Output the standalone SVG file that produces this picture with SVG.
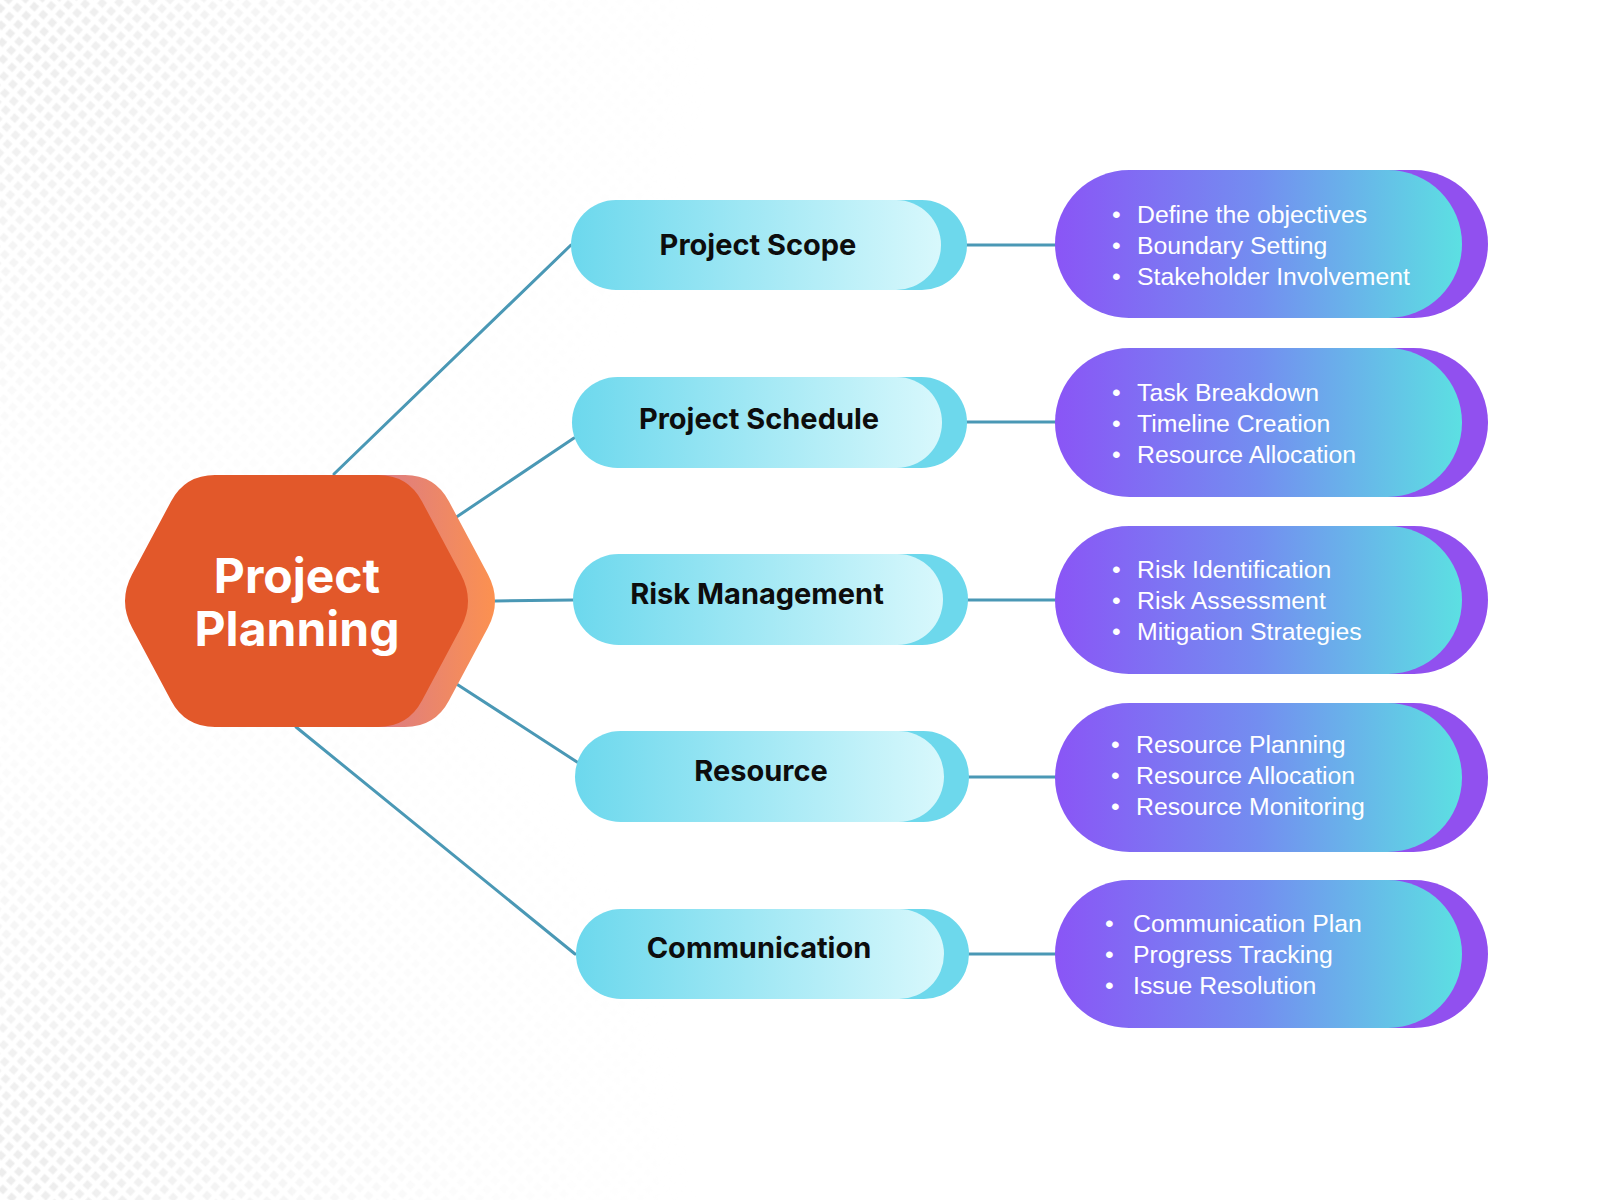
<svg xmlns="http://www.w3.org/2000/svg" width="1600" height="1200" viewBox="0 0 1600 1200">
<style>
.conn{stroke:#4a98b5;stroke-width:3;fill:none;stroke-linecap:round}
.lbl{font-family:Inter,"Noto Sans",sans-serif;font-weight:700;font-size:29px;fill:#0d0d0d;text-anchor:middle}
.hub{font-family:Inter,"Noto Sans",sans-serif;font-weight:700;font-size:48px;fill:#ffffff;text-anchor:middle}
.item{font-family:"Liberation Sans",Arial,sans-serif;font-size:24.8px;fill:#ffffff}
</style>
<defs>
<pattern id="dots" width="12" height="12" patternUnits="userSpaceOnUse" patternTransform="rotate(42)">
<rect x="2.5" y="2.5" width="7" height="7" fill="#ececec"/>
</pattern>
<radialGradient id="fadeTL" cx="0" cy="0" r="720" gradientUnits="userSpaceOnUse">
<stop offset="0" stop-color="#fff"/>
<stop offset="0.3" stop-color="#fff" stop-opacity="0.6"/>
<stop offset="0.65" stop-color="#fff" stop-opacity="0.15"/>
<stop offset="1" stop-color="#fff" stop-opacity="0"/>
</radialGradient>
<radialGradient id="fadeBL" cx="0" cy="1200" r="700" gradientUnits="userSpaceOnUse">
<stop offset="0" stop-color="#fff"/>
<stop offset="0.3" stop-color="#fff" stop-opacity="0.6"/>
<stop offset="0.65" stop-color="#fff" stop-opacity="0.15"/>
<stop offset="1" stop-color="#fff" stop-opacity="0"/>
</radialGradient>
<mask id="bgmask" maskUnits="userSpaceOnUse" x="0" y="0" width="1600" height="1200">
<rect width="1600" height="1200" fill="#000"/>
<rect width="1600" height="1200" fill="url(#fadeTL)"/>
<rect width="1600" height="1200" fill="url(#fadeBL)"/>
</mask>
<linearGradient id="hexBack" x1="0" y1="0" x2="1" y2="0">
<stop offset="0.6" stop-color="#d6788c"/>
<stop offset="1" stop-color="#fc9150"/>
</linearGradient>
<linearGradient id="cyanFront" x1="0" y1="0" x2="1" y2="0">
<stop offset="0" stop-color="#6cd8ed"/>
<stop offset="1" stop-color="#d8f8fc"/>
</linearGradient>
<linearGradient id="purpleFront" x1="0" y1="0" x2="1" y2="0">
<stop offset="0" stop-color="#8a55f6"/>
<stop offset="0.5" stop-color="#738ef0"/>
<stop offset="1" stop-color="#5ce0e2"/>
</linearGradient>
</defs>

<rect width="1600" height="1200" fill="#ffffff"/>
<rect width="1600" height="1200" fill="url(#dots)" mask="url(#bgmask)"/>

<g id="connectors">
<line class="conn" x1="334" y1="474" x2="571" y2="245"/>
<line class="conn" x1="455" y1="518" x2="574" y2="438"/>
<line class="conn" x1="495" y1="601" x2="574" y2="600"/>
<line class="conn" x1="455" y1="683" x2="577" y2="762"/>
<line class="conn" x1="296" y1="727" x2="575" y2="954"/>
<line class="conn" x1="966" y1="245" x2="1058" y2="245"/>
<line class="conn" x1="966" y1="422" x2="1058" y2="422"/>
<line class="conn" x1="967" y1="600" x2="1058" y2="600"/>
<line class="conn" x1="968" y1="777" x2="1058" y2="777"/>
<line class="conn" x1="969" y1="954" x2="1058" y2="954"/>
</g>

<g id="hub">
<path fill="url(#hexBack)" d="M159,574.5 L198,501.5 Q212,475 242,475 L405,475 Q435,475 449,501.5 L488,574.5 Q502,601 488,627.5 L449,700.5 Q435,727 405,727 L242,727 Q212,727 198,700.5 L159,627.5 Q145,601 159,574.5 Z"/>
<path fill="#e2582a" d="M132,574.5 L171,501.5 Q185,475 215,475 L378,475 Q408,475 422,501.5 L461,574.5 Q475,601 461,627.5 L422,700.5 Q408,727 378,727 L215,727 Q185,727 171,700.5 L132,627.5 Q118,601 132,574.5 Z"/>
<text class="hub" x="297" y="593">Project</text>
<text class="hub" x="297" y="646">Planning</text>
</g>

<g id="scope">
<rect x="597" y="200" width="370" height="90" rx="45" fill="#6dd8ec"/>
<rect x="571" y="200" width="370" height="90" rx="45" fill="url(#cyanFront)"/>
<text class="lbl" x="758" y="255">Project Scope</text>
</g>
<g id="schedule">
<rect x="598" y="377" width="369" height="91" rx="45.5" fill="#6dd8ec"/>
<rect x="572" y="377" width="370" height="91" rx="45.5" fill="url(#cyanFront)"/>
<text class="lbl" x="759" y="429">Project Schedule</text>
</g>
<g id="risk">
<rect x="598" y="554" width="370" height="91" rx="45.5" fill="#6dd8ec"/>
<rect x="573" y="554" width="370" height="91" rx="45.5" fill="url(#cyanFront)"/>
<text class="lbl" x="757" y="604">Risk Management</text>
</g>
<g id="resource">
<rect x="599" y="731" width="370" height="91" rx="45.5" fill="#6dd8ec"/>
<rect x="575" y="731" width="369" height="91" rx="45.5" fill="url(#cyanFront)"/>
<text class="lbl" x="761" y="781">Resource</text>
</g>
<g id="communication">
<rect x="600" y="909" width="369" height="90" rx="45" fill="#6dd8ec"/>
<rect x="576" y="909" width="368" height="90" rx="45" fill="url(#cyanFront)"/>
<text class="lbl" x="759" y="958">Communication</text>
</g>

<g id="scope-details">
<rect x="1081" y="170" width="407" height="148" rx="74" fill="#9150ef"/>
<rect x="1055" y="170" width="407" height="148" rx="74" fill="url(#purpleFront)"/>
<text class="item" x="1112" y="223">•</text><text class="item" x="1137" y="223">Define the objectives</text>
<text class="item" x="1112" y="254">•</text><text class="item" x="1137" y="254">Boundary Setting</text>
<text class="item" x="1112" y="285">•</text><text class="item" x="1137" y="285">Stakeholder Involvement</text>
</g>
<g id="schedule-details">
<rect x="1081" y="348" width="407" height="149" rx="74.5" fill="#9150ef"/>
<rect x="1055" y="348" width="407" height="149" rx="74.5" fill="url(#purpleFront)"/>
<text class="item" x="1112" y="401">•</text><text class="item" x="1137" y="401">Task Breakdown</text>
<text class="item" x="1112" y="432">•</text><text class="item" x="1137" y="432">Timeline Creation</text>
<text class="item" x="1112" y="463">•</text><text class="item" x="1137" y="463">Resource Allocation</text>
</g>
<g id="risk-details">
<rect x="1081" y="526" width="407" height="148" rx="74" fill="#9150ef"/>
<rect x="1055" y="526" width="407" height="148" rx="74" fill="url(#purpleFront)"/>
<text class="item" x="1112" y="578">•</text><text class="item" x="1137" y="578">Risk Identification</text>
<text class="item" x="1112" y="609">•</text><text class="item" x="1137" y="609">Risk Assessment</text>
<text class="item" x="1112" y="640">•</text><text class="item" x="1137" y="640">Mitigation Strategies</text>
</g>
<g id="resource-details">
<rect x="1081" y="703" width="407" height="149" rx="74.5" fill="#9150ef"/>
<rect x="1055" y="703" width="407" height="149" rx="74.5" fill="url(#purpleFront)"/>
<text class="item" x="1111" y="753">•</text><text class="item" x="1136" y="753">Resource Planning</text>
<text class="item" x="1111" y="784">•</text><text class="item" x="1136" y="784">Resource Allocation</text>
<text class="item" x="1111" y="815">•</text><text class="item" x="1136" y="815">Resource Monitoring</text>
</g>
<g id="communication-details">
<rect x="1081" y="880" width="407" height="148" rx="74" fill="#9150ef"/>
<rect x="1055" y="880" width="407" height="148" rx="74" fill="url(#purpleFront)"/>
<text class="item" x="1105" y="932">•</text><text class="item" x="1133" y="932">Communication Plan</text>
<text class="item" x="1105" y="963">•</text><text class="item" x="1133" y="963">Progress Tracking</text>
<text class="item" x="1105" y="994">•</text><text class="item" x="1133" y="994">Issue Resolution</text>
</g>
</svg>
